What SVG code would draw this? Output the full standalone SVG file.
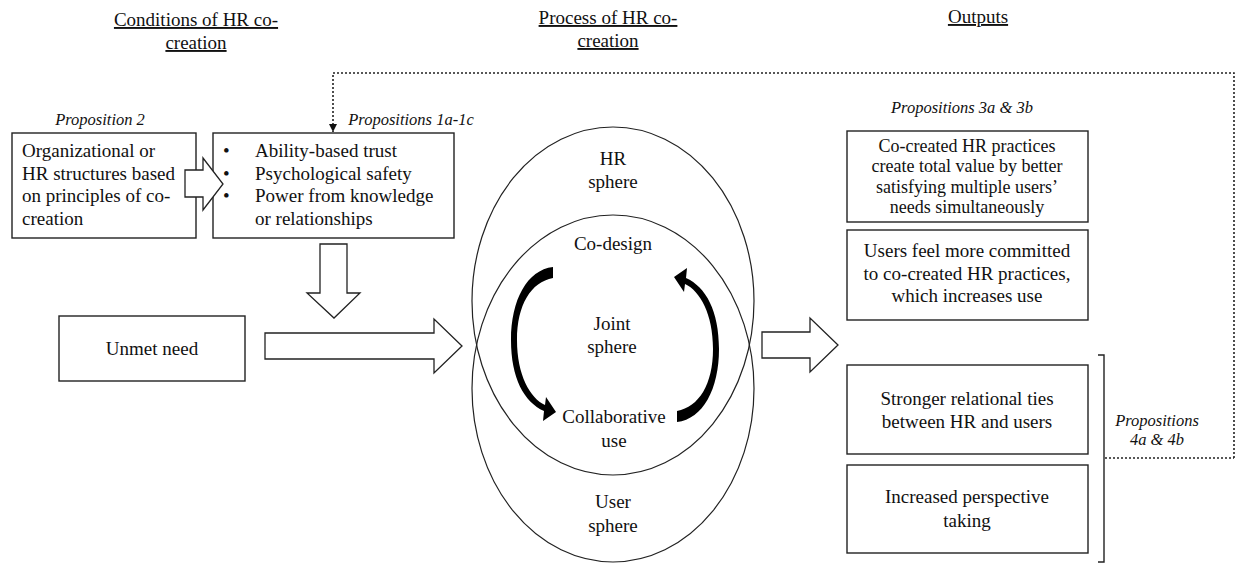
<svg xmlns="http://www.w3.org/2000/svg" width="1237" height="563" viewBox="0 0 1237 563" font-family="'Liberation Serif','Times New Roman',serif">
<style>
text{font-family:"Liberation Serif","Times New Roman",serif;fill:#111;}
.t{font-size:19px;}
.s{font-size:18px;}
.i{font-size:16.5px;font-style:italic;}
.h{font-size:19px;text-decoration:underline;}
.c{text-anchor:middle;}
.box{fill:#fff;stroke:#222;stroke-width:1.4;}
.blk{fill:#fff;stroke:#222;stroke-width:1.3;stroke-linejoin:miter;}
.ell{fill:none;stroke:#222;stroke-width:1.2;}
.dot{fill:none;stroke:#222;stroke-width:1.6;stroke-dasharray:2 2;}
.br{fill:none;stroke:#222;stroke-width:1.4;}
.curl{fill:#000;}
</style>
<defs>
<marker id="ah" markerWidth="9" markerHeight="9" refX="8" refY="4.5" orient="auto" markerUnits="userSpaceOnUse" viewBox="0 0 9 9">
<path d="M0 0.5 L8 4.5 L0 8.5 Z" fill="#111"/>
</marker>
<path id="curl" d="M553 267 C527 270 511 300 511 340 C511 378 524 402 544 411 L543 421 L556 412 L546 397 L545 405 C530 398 517 375 517 340 C517 305 531 282 553 278 Z"/>
</defs>

<g id="headings">
<text class="h c" x="196" y="26">Conditions of HR co-</text>
<text class="h c" x="196" y="49">creation</text>
<text class="h c" x="608" y="24">Process of HR co-</text>
<text class="h c" x="608" y="47">creation</text>
<text class="h c" x="978" y="23">Outputs</text>
</g>

<g id="prop2">
<text class="i c" x="100" y="125">Proposition 2</text>
</g>

<g id="structures">
<rect class="box" x="12" y="133" width="184" height="105"/>
<text class="t" x="22" y="157">Organizational or</text>
<text class="t" x="22" y="180">HR structures based</text>
<text class="t" x="22" y="202">on principles of co-</text>
<text class="t" x="22" y="225">creation</text>
</g>

<g id="conditions">
<text class="i c" x="411" y="125">Propositions 1a-1c</text>
<rect class="box" x="213" y="133" width="241" height="105"/>
<text class="t" x="223" y="157">•</text>
<text class="t" x="255" y="157">Ability-based trust</text>
<text class="t" x="223" y="180">•</text>
<text class="t" x="255" y="180">Psychological safety</text>
<text class="t" x="223" y="202">•</text>
<text class="t" x="255" y="202">Power from knowledge</text>
<text class="t" x="255" y="225">or relationships</text>
</g>

<g id="unmet">
<rect class="box" x="59" y="316" width="186" height="65"/>
<text class="t c" x="152" y="355">Unmet need</text>
</g>

<g id="spheres">
<ellipse class="ell" cx="613" cy="301" rx="141" ry="174"/>
<ellipse class="ell" cx="613" cy="388.5" rx="141" ry="173.5"/>
<text class="t c" x="613" y="165">HR</text>
<text class="t c" x="613" y="188">sphere</text>
<text class="t c" x="613" y="250">Co-design</text>
<text class="t c" x="612" y="330">Joint</text>
<text class="t c" x="612" y="353">sphere</text>
<text class="t c" x="614" y="423">Collaborative</text>
<text class="t c" x="614" y="447">use</text>
<text class="t c" x="613" y="508">User</text>
<text class="t c" x="613" y="532">sphere</text>
</g>

<g id="cycle">
<use href="#curl" class="curl"/>
<use href="#curl" class="curl" transform="rotate(180 615 344.5)"/>
</g>

<g id="outA">
<text class="i c" x="962" y="113">Propositions 3a &amp; 3b</text>
<rect class="box" x="847" y="131" width="241" height="91"/>
<text class="s c" x="967" y="152">Co-created HR practices</text>
<text class="s c" x="967" y="172">create total value by better</text>
<text class="s c" x="967" y="193">satisfying multiple users’</text>
<text class="s c" x="967" y="213">needs simultaneously</text>
</g>

<g id="outB">
<rect class="box" x="847" y="230" width="241" height="90"/>
<text class="t c" x="967" y="257">Users feel more committed</text>
<text class="t c" x="967" y="280">to co-created HR practices,</text>
<text class="t c" x="967" y="302">which increases use</text>
</g>

<g id="outC">
<rect class="box" x="847" y="365" width="241" height="89"/>
<text class="t c" x="967" y="405">Stronger relational ties</text>
<text class="t c" x="967" y="428">between HR and users</text>
</g>

<g id="outD">
<rect class="box" x="847" y="465" width="241" height="88"/>
<text class="t c" x="967" y="503">Increased perspective</text>
<text class="t c" x="967" y="527">taking</text>
</g>

<g id="prop4">
<text class="i c" x="1157" y="426">Propositions</text>
<text class="i c" x="1157" y="445">4a &amp; 4b</text>
</g>

<g id="connectors">
<path class="dot" d="M1234 458 L1234 73 L333 73 L333 132" marker-end="url(#ah)"/>
<path class="dot" d="M1105 458 L1234 458"/>
<path class="br" d="M1098 355 L1104 355 L1104 562 L1098 562"/>
<polygon class="blk" points="185,170 203,170 203,158 223,184 203,210 203,197 185,197"/>
<polygon class="blk" points="320,244 347,244 347,293 360,293 334,318 307,293 320,293"/>
<polygon class="blk" points="265,333 434,333 434,319 462,346 434,373 434,359 265,359"/>
<polygon class="blk" points="762,332 810,332 810,318 838,345 810,372 810,358 762,358"/>
</g>
</svg>
